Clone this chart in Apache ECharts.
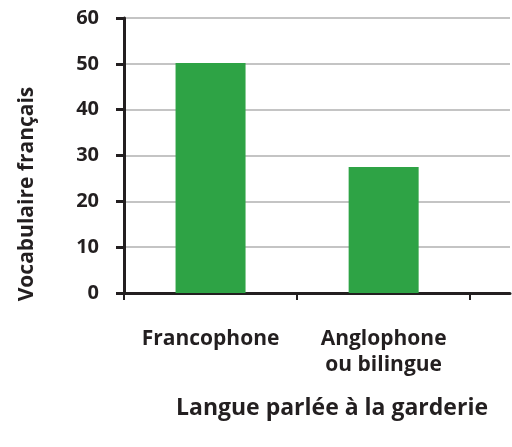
<!DOCTYPE html>
<html>
<head>
<meta charset="utf-8">
<script src="https://cdn.jsdelivr.net/npm/echarts@6/dist/echarts.min.js"></script>
<style>
  html, body { margin: 0; padding: 0; background: #fff; }
  #chart { width: 512px; height: 447px; }
</style>
</head>
<body>
<div id="chart"></div>
<script>
var categories = ['Francophone', 'Anglophone\nou bilingue'];
var categoryPos = [0.5, 1.5];
var values = [50.2, 27.5];
var yTicks = [0, 10, 20, 30, 40, 50, 60];

var ink = '#231f20';
var font = '"Open Sans", "DejaVu Sans", sans-serif';

var chart = echarts.init(document.getElementById('chart'));

var barData = [];
for (var i = 0; i < values.length; i++) {
    barData.push([categoryPos[i], values[i]]);
}

var option = {
    animation: false,
    grid: { left: 124, right: 2, top: 18, bottom: 154 },
    xAxis: {
        type: 'value',
        min: 0,
        max: 2.23,
        splitLine: { show: false },
        axisLine: { show: true, lineStyle: { color: ink, width: 3 } },
        axisTick: {
            show: true,
            customValues: [0, 1, 2],
            length: 7,
            lineStyle: { color: ink, width: 2 }
        },
        axisLabel: {
            customValues: categoryPos,
            margin: 33,
            color: ink,
            fontFamily: font,
            fontWeight: 'bold',
            fontSize: 21,
            lineHeight: 26,
            formatter: function (v) {
                var idx = categoryPos.indexOf(v);
                return idx >= 0 ? categories[idx] : '';
            }
        }
    },
    yAxis: {
        type: 'value',
        min: yTicks[0],
        max: yTicks[yTicks.length - 1],
        interval: 10,
        axisLine: { show: true, lineStyle: { color: ink, width: 3 } },
        axisTick: { show: true, length: 8, lineStyle: { color: ink, width: 3 } },
        axisLabel: {
            margin: 25,
            color: ink,
            fontFamily: font,
            fontWeight: 'bold',
            fontSize: 20
        },
        splitLine: { show: true, lineStyle: { color: '#c4c4c4', width: 2 } }
    },
    series: [{
        type: 'bar',
        data: barData,
        barWidth: 70,
        itemStyle: { color: '#2ea345' }
    }],
    graphic: [
        {
            type: 'text',
            x: 27,
            y: 194,
            rotation: Math.PI / 2,
            style: {
                text: 'Vocabulaire français',
                fill: ink,
                font: 'bold 21px ' + font,
                align: 'center',
                verticalAlign: 'middle'
            }
        },
        {
            type: 'text',
            x: 332,
            y: 408,
            style: {
                text: 'Langue parlée à la garderie',
                fill: ink,
                font: 'bold 23px ' + font,
                align: 'center',
                verticalAlign: 'middle'
            }
        }
    ]
};

chart.setOption(option);
</script>
</body>
</html>
